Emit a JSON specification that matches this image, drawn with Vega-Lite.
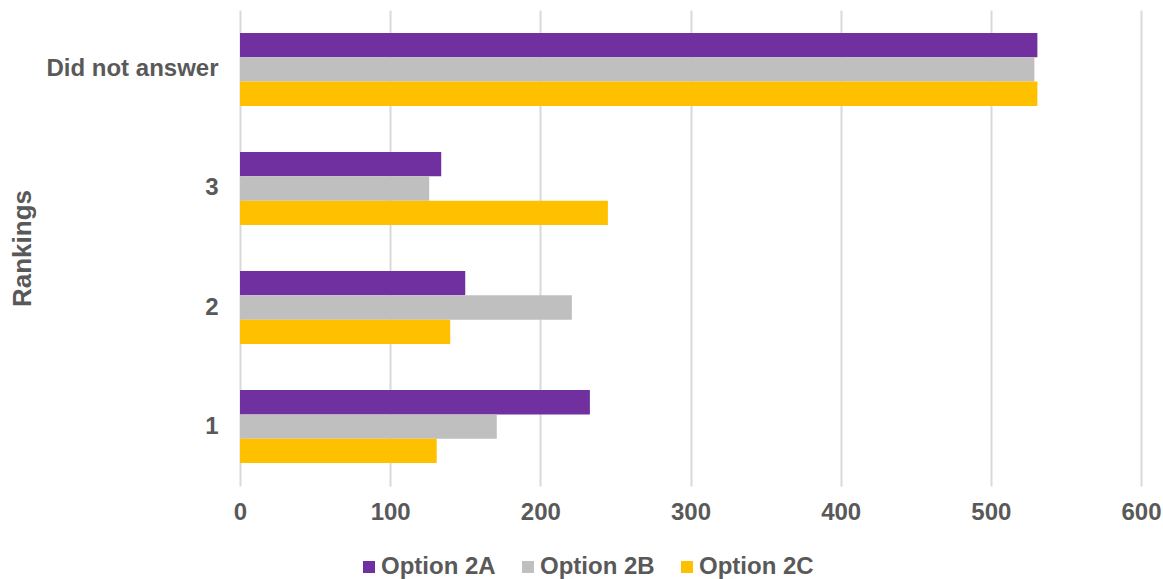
{
  "$schema": "https://vega.github.io/schema/vega-lite/v6.json",
  "width": 901,
  "height": 476,
  "autosize": {"type": "none"},
  "padding": {"left": 240, "top": 10, "right": 22, "bottom": 93},
  "background": "white",
  "config": {
    "view": {"stroke": null},
    "font": "Liberation Sans",
    "legend": {"labelFontWeight": 700}
  },
  "data": {
    "values": [
      {"ranking": "Did not answer", "option": "Option 2A", "count": 531},
      {"ranking": "Did not answer", "option": "Option 2B", "count": 529},
      {"ranking": "Did not answer", "option": "Option 2C", "count": 531},
      {"ranking": "3", "option": "Option 2A", "count": 134},
      {"ranking": "3", "option": "Option 2B", "count": 126},
      {"ranking": "3", "option": "Option 2C", "count": 245},
      {"ranking": "2", "option": "Option 2A", "count": 150},
      {"ranking": "2", "option": "Option 2B", "count": 221},
      {"ranking": "2", "option": "Option 2C", "count": 140},
      {"ranking": "1", "option": "Option 2A", "count": 233},
      {"ranking": "1", "option": "Option 2B", "count": 171},
      {"ranking": "1", "option": "Option 2C", "count": 131}
    ]
  },
  "mark": {"type": "bar"},
  "encoding": {
    "y": {
      "field": "ranking",
      "type": "nominal",
      "sort": ["Did not answer", "3", "2", "1"],
      "scale": {"paddingInner": 0.387, "paddingOuter": 0.193},
      "axis": {
        "title": "Rankings",
        "titleFont": "Liberation Sans",
        "titleFontSize": 26,
        "titleFontWeight": "bold",
        "titleColor": "#595959",
        "titlePadding": 10,
        "labelFont": "Liberation Sans",
        "labelFontSize": 24,
        "labelFontWeight": "bold",
        "labelColor": "#595959",
        "labelPadding": 22,
        "ticks": false,
        "domain": false
      }
    },
    "yOffset": {
      "field": "option",
      "type": "nominal",
      "sort": ["Option 2A", "Option 2B", "Option 2C"],
      "scale": {"paddingInner": 0, "paddingOuter": 0}
    },
    "x": {
      "field": "count",
      "type": "quantitative",
      "scale": {"domain": [0, 600], "nice": false},
      "axis": {
        "title": null,
        "values": [0, 100, 200, 300, 400, 500, 600],
        "labelFont": "Liberation Sans",
        "labelFontSize": 24,
        "labelFontWeight": "bold",
        "labelColor": "#595959",
        "labelPadding": 14,
        "labelFlush": false,
        "ticks": false,
        "domain": false,
        "grid": true,
        "gridColor": "#d9d9d9",
        "gridWidth": 2
      }
    },
    "color": {
      "field": "option",
      "type": "nominal",
      "sort": ["Option 2A", "Option 2B", "Option 2C"],
      "scale": {
        "domain": ["Option 2A", "Option 2B", "Option 2C"],
        "range": ["#7030A0", "#BFBFBF", "#FFC000"]
      },
      "legend": {
        "title": null,
        "orient": "none",
        "legendX": 117,
        "legendY": 545,
        "direction": "horizontal",
        "symbolType": "square",
        "symbolSize": 144,
        "symbolStrokeWidth": 0,
        "labelFont": "Liberation Sans",
        "labelFontSize": 24,
        "labelFontWeight": 700,
        "labelColor": "#595959",
        "labelOffset": 0,
        "columnPadding": 20
      }
    }
  }
}
